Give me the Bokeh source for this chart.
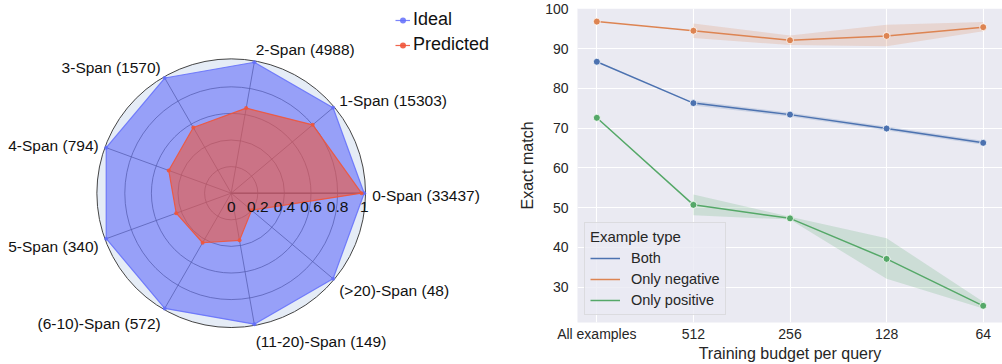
import numpy as np
from bokeh.plotting import figure
from bokeh.layouts import row
from bokeh.models import Range1d, Legend, LegendItem, FixedTicker
from bokeh.embed import file_html
from bokeh.resources import INLINE
from bokeh.core.properties import value

# ---------------- radar data ----------------
span_labels = ["0-Span (33437)", "1-Span (15303)", "2-Span (4988)", "3-Span (1570)",
               "4-Span (794)", "5-Span (340)", "(6-10)-Span (572)",
               "(11-20)-Span (149)", "(>20)-Span (48)"]
ideal = [1, 1, 1, 1, 1, 1, 1, 1, 1]
predicted = [0.98, 0.80, 0.65, 0.57, 0.50, 0.44, 0.43, 0.36, 0.20]
radial_ticks = [0, 0.2, 0.4, 0.6, 0.8, 1]
radial_tick_labels = ["0", "0.2", "0.4", "0.6", "0.8", "1"]
radial_max = 1.01

# ---------------- line chart data ----------------
budgets = ["All examples", "512", "256", "128", "64"]
both = [86.7, 76.3, 73.4, 69.9, 66.3]
only_negative = [96.8, 94.5, 92.1, 93.2, 95.4]
only_positive = [72.6, 50.7, 47.3, 37.1, 25.3]
# confidence bands (only for the budget points, not "All examples")
ci_budgets = ["512", "256", "128", "64"]
both_lo = [75.7, 72.9, 69.4, 65.8]
both_hi = [76.9, 73.9, 70.4, 66.8]
neg_lo = [92.7, 90.9, 90.6, 94.4]
neg_hi = [96.3, 93.3, 96.0, 96.7]
pos_lo = [48.1, 47.0, 32.1, 24.6]
pos_hi = [53.3, 47.7, 42.3, 26.3]
y_ticks = [30, 40, 50, 60, 70, 80, 90, 100]

FONT = "Liberation Sans"

# ================= left: radar =================
W1, H1 = 500, 364
cx, cy, S = 230.7, 192.7, 133.0
p1 = figure(width=W1, height=H1, output_backend="svg", toolbar_location=None,
            x_axis_type=None, y_axis_type=None,
            x_range=Range1d(-cx / S, (W1 - cx) / S),
            y_range=Range1d(-(H1 - cy) / S, cy / S),
            min_border=0, outline_line_color=None,
            background_fill_color="white", border_fill_color="white")
p1.frame_align = False
p1.grid.visible = False

n = len(span_labels)
theta = np.arange(n) * 2 * np.pi / n
cos_t, sin_t = np.cos(theta), np.sin(theta)

# background disc + outer ring
p1.circle(x=[0], y=[0], radius=[radial_max], fill_color="#e5ecf6",
          line_color="#444444", line_width=1)
# grid circles
p1.circle(x=[0] * 4, y=[0] * 4, radius=radial_ticks[1:5], fill_alpha=0,
          line_color="#444444", line_width=0.9, line_alpha=0.85)
# spokes
p1.segment(x0=[0] * n, y0=[0] * n, x1=list(radial_max * cos_t), y1=list(radial_max * sin_t),
           line_color="#444444", line_width=0.9, line_alpha=0.85)
# radial axis line
p1.segment(x0=[0], y0=[0], x1=[radial_ticks[-1]], y1=[0], line_color="#333333", line_width=1.6)

def closed(vals):
    r = np.array(vals, dtype=float)
    xs = list(r * cos_t) + [r[0] * cos_t[0]]
    ys = list(r * sin_t) + [r[0] * sin_t[0]]
    return xs, ys

ix, iy = closed(ideal)
px, py = closed(predicted)
p1.patch(ix, iy, fill_color="#636efa", fill_alpha=0.6, line_color=None)
p1.patch(px, py, fill_color="#ef553b", fill_alpha=0.6, line_color=None)
l_ideal = p1.line(ix, iy, line_color="#636efa", line_width=1.2, line_alpha=0.85)
s_ideal = p1.scatter(ix[:-1], iy[:-1], size=4, fill_color="#636efa", line_color=None, alpha=0.85)
l_pred = p1.line(px, py, line_color="#ef553b", line_width=1.2, line_alpha=0.9)
s_pred = p1.scatter(px[:-1], py[:-1], size=4, fill_color="#ef553b", line_color=None, alpha=0.9)

# radial tick labels
p1.text(x=radial_ticks, y=[-14 / S] * len(radial_ticks), text=radial_tick_labels,
        text_align="center", text_baseline="middle", text_font=value(FONT),
        text_font_size="15.5px", text_color="#111111")

# category labels
rl = 1.06
lab_x = rl * cos_t
lab_y = rl * sin_t + (7 * sin_t - 2.5) / S
left_idx = [i for i in range(n) if cos_t[i] >= 0]
right_idx = [i for i in range(n) if cos_t[i] < 0]
p1.text(x=[lab_x[i] for i in left_idx], y=[lab_y[i] for i in left_idx],
        text=[span_labels[i] for i in left_idx], text_align="left", text_baseline="middle",
        text_font=value(FONT), text_font_size="15.5px", text_color="#111111")
p1.text(x=[lab_x[i] for i in right_idx], y=[lab_y[i] for i in right_idx],
        text=[span_labels[i] for i in right_idx], text_align="right", text_baseline="middle",
        text_font=value(FONT), text_font_size="15.5px", text_color="#111111")

leg1 = Legend(items=[LegendItem(label="Ideal", renderers=[l_ideal, s_ideal]),
                     LegendItem(label="Predicted", renderers=[l_pred, s_pred])],
              location=(395, 309), padding=0, margin=0, spacing=4,
              glyph_width=15, glyph_height=20, label_height=20, label_standoff=3,
              label_text_font=FONT, label_text_font_size="18px", label_text_color="#111111",
              background_fill_alpha=0, border_line_alpha=0)
p1.add_layout(leg1)

# ================= right: line chart =================
W2, H2 = 502, 364
p2 = figure(width=W2, height=H2, output_backend="svg", toolbar_location=None,
            x_range=Range1d(-0.2, 4.2), y_range=Range1d(21.1, 100.1),
            min_border_left=77, min_border_right=0, min_border_top=8, min_border_bottom=40,
            background_fill_color="#eaeaf2", border_fill_color="white",
            outline_line_color=None)
p2.frame_align = False

xi = list(range(len(budgets)))
ci_x = [budgets.index(b) for b in ci_budgets]

series = [("Both", both, both_lo, both_hi, "#4c72b0"),
          ("Only negative", only_negative, neg_lo, neg_hi, "#dd8452"),
          ("Only positive", only_positive, pos_lo, pos_hi, "#55a868")]
items = []
for name, vals, lo, hi, col in series:
    p2.varea(x=ci_x, y1=lo, y2=hi, fill_color=col, fill_alpha=0.2)
for name, vals, lo, hi, col in series:
    lr = p2.line(xi, vals, line_color=col, line_width=1.5)
    p2.scatter(xi, vals, size=7, fill_color=col, line_color="white", line_width=0.8)
    items.append(LegendItem(label=name, renderers=[lr]))

p2.xaxis.ticker = FixedTicker(ticks=xi)
p2.xaxis.major_label_overrides = {i: b for i, b in enumerate(budgets)}
p2.yaxis.ticker = FixedTicker(ticks=y_ticks)
p2.xgrid.ticker = FixedTicker(ticks=xi)
p2.ygrid.ticker = FixedTicker(ticks=y_ticks)
p2.grid.grid_line_color = "white"
p2.grid.grid_line_width = 1.1
for ax in (p2.xaxis[0], p2.yaxis[0]):
    ax.axis_line_color = None
    ax.major_tick_line_color = None
    ax.minor_tick_line_color = None
    ax.major_tick_out = 0
    ax.major_tick_in = 0
    ax.major_label_text_font = FONT
    ax.major_label_text_font_size = "14px"
    ax.major_label_text_color = "#262626"
    ax.axis_label_text_font = FONT
    ax.axis_label_text_font_size = "16px"
    ax.axis_label_text_font_style = "normal"
    ax.axis_label_text_color = "#262626"
p2.xaxis.axis_label = "Training budget per query"
p2.yaxis.axis_label = "Exact match"
p2.xaxis.major_label_standoff = 3
p2.xaxis.axis_label_standoff = 0
p2.yaxis.major_label_standoff = 9
p2.yaxis.axis_label_standoff = 6

leg2 = Legend(items=items, location="bottom_left", title="Example type",
              margin=7, padding=5, spacing=3, glyph_width=30, glyph_height=18,
              label_height=18, label_standoff=11,
              label_text_font=FONT, label_text_font_size="14.5px", label_text_color="#262626",
              title_text_font=FONT, title_text_font_size="15px", title_text_font_style="normal",
              title_text_color="#262626", title_standoff=4,
              background_fill_color="#eaeaf2", background_fill_alpha=0.8,
              border_line_color="#cccccc", border_line_width=1)
p2.add_layout(leg2)

layout = row(p1, p2)
open("out.html", "w").write(file_html(layout, INLINE))
